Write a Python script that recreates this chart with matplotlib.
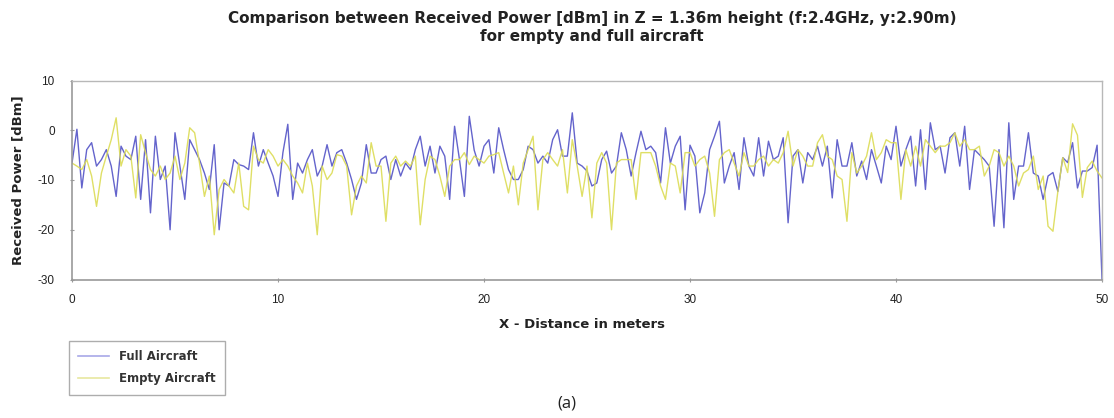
import numpy as np
import matplotlib
matplotlib.use("Agg")
import matplotlib.pyplot as plt
from matplotlib.lines import Line2D

plt.rcParams['font.family'] = ['Liberation Sans', 'DejaVu Sans']
plt.rcParams['axes.unicode_minus'] = False

# received power [dBm], every ~0.24 m from 0 to 50 m
full_aircraft = [
    -6.6, 0.2, -11.6, -3.9, -2.5, -7.2, -5.9, -3.9, -7.2, -13.3,
    -3.2, -5.2, -5.9, -1.2, -13.9, -1.9, -16.6, -1.2, -9.9, -7.2,
    -20.0, -0.5, -7.2, -13.9, -1.9, -3.9, -5.9, -8.6, -11.9, -2.9,
    -20.0, -10.6, -11.2, -5.9, -6.9, -7.2, -7.9, -0.5, -7.2, -3.9,
    -6.6, -9.2, -13.3, -4.5, 1.2, -13.9, -6.6, -8.6, -5.9, -3.9, -9.2,
    -7.2, -2.9, -7.2, -4.5, -3.9, -6.6, -9.9, -13.9, -10.6, -2.9,
    -8.6, -8.6, -5.9, -5.2, -9.9, -5.9, -9.2, -6.6, -7.9, -3.9,
    -1.2, -7.2, -3.2, -8.6, -3.2, -5.2, -13.9, 0.8, -5.9, -13.3,
    2.8, -4.0, -7.2, -3.2, -1.9, -8.6, 0.5, -3.9, -7.9, -9.9,
    -9.9, -7.9, -3.2, -3.9, -6.6, -5.2, -6.6, -1.9, 0.1, -5.2,
    -5.2, 3.5, -6.6, -7.2, -8.2, -11.2, -10.6, -5.9, -4.2, -8.6,
    -7.2, -0.5, -3.9, -9.2, -4.5, -0.2, -3.9, -3.2, -4.5, -10.6,
    0.5, -6.6, -3.2, -1.2, -16.0, -3.0, -5.2, -16.6, -12.6, -3.9,
    -1.2, 1.8, -10.6, -7.2, -4.5, -11.9, -1.5, -7.2, -9.2, -1.5,
    -9.2, -2.2, -5.9, -5.2, -1.5, -18.6, -5.2, -3.9, -10.6, -4.5,
    -5.9, -3.2, -7.2, -3.2, -13.6, -1.9, -7.2, -7.2, -2.5, -9.2,
    -6.2, -9.9, -3.9, -7.2, -10.6, -3.2, -5.9, 0.8, -7.2, -3.9,
    -1.2, -11.2, 0.1, -11.9, 1.5, -3.9, -3.2, -8.6, -1.5, -0.5,
    -7.2, 0.8, -11.9, -3.9, -4.9, -5.9, -7.2, -19.3, -3.9, -19.6,
    1.5, -13.9, -7.2, -7.2, -0.5, -8.6, -9.2, -13.9, -9.2, -8.5,
    -12.3, -5.5, -6.5, -2.5, -11.6, -8.2, -8.2, -7.5, -3.0, -30.0,
]
empty_aircraft = [
    -6.6, -7.2, -7.9, -5.9, -9.2, -15.3, -8.6, -5.2, -1.9, 2.5,
    -7.2, -3.9, -5.2, -13.6, -0.9, -4.5, -7.9, -9.2, -7.2, -9.9,
    -8.6, -5.2, -9.9, -6.6, 0.5, -0.5, -6.6, -13.3, -9.2, -21.0,
    -11.9, -9.9, -11.2, -12.6, -6.6, -15.3, -16.0, -3.2, -5.9, -6.6,
    -3.9, -5.2, -7.2, -5.9, -7.2, -9.2, -10.6, -12.6, -6.6, -11.2, -21.0,
    -7.2, -9.9, -8.6, -4.9, -5.2, -7.2, -17.0, -11.2, -9.2, -10.6,
    -2.5, -7.2, -7.2, -18.3, -6.6, -5.2, -7.2, -6.2, -7.2, -5.2,
    -19.0, -9.9, -5.2, -5.9, -9.2, -13.3, -7.2, -5.9, -5.9, -4.5,
    -6.9, -5.2, -5.9, -6.6, -5.2, -4.9, -4.5, -8.6, -12.6, -7.2,
    -15.0, -6.6, -3.9, -1.2, -16.0, -5.9, -4.5, -5.9, -7.2, -3.9,
    -12.6, -1.9, -7.2, -13.3, -7.2, -17.6, -6.6, -4.5, -6.6, -20.0,
    -6.6, -5.9, -5.9, -5.9, -13.9, -4.5, -4.5, -4.5, -7.2, -11.2,
    -13.9, -6.6, -7.2, -12.6, -4.5, -4.5, -7.2, -5.9, -5.2, -8.6,
    -17.3, -5.9, -4.5, -3.9, -6.6, -9.2, -4.5, -7.2, -7.2, -5.9,
    -5.2, -7.2, -5.9, -6.6, -4.5, -0.2, -7.2, -3.9, -5.2, -7.2,
    -7.2, -2.5, -0.9, -5.2, -5.9, -9.2, -9.9, -18.3, -4.5, -8.6,
    -7.2, -5.2, -0.5, -5.9, -4.5, -1.9, -2.5, -2.5, -13.9, -3.9,
    -7.2, -3.2, -7.2, -1.9, -3.2, -4.5, -3.2, -3.2, -2.5, -0.5,
    -3.2, -1.9, -3.9, -3.9, -3.2, -9.2, -7.2, -3.9, -4.5, -7.2,
    -5.2, -7.2, -11.2, -8.6, -7.9, -5.2, -11.9, -9.2, -19.3, -20.3,
    -12.3, -5.5, -8.5, 1.3, -1.0, -13.5, -7.5, -6.2, -8.2, -9.6,
]
distance = np.linspace(0, 50, len(full_aircraft))   # X - distance [m]

x_ticks = [0, 10, 20, 30, 40, 50]
y_ticks = [10, 0, -10, -20, -30]

blue = '#6464cc'
yellow = '#dcdc55'
wide = ['DejaVu Sans']          # reference text is broader than Arial

fig = plt.figure(figsize=(11.14, 4.18), dpi=100)
ax = fig.add_axes([72/1114, 1 - 279.5/418, 1030/1114, 199/418])

ax.plot(distance, full_aircraft, color=blue, lw=1.0)
ax.plot(distance, empty_aircraft, color=yellow, lw=1.0, alpha=0.9)

ax.set_xlim(0, 50)
ax.set_ylim(-30, 10)
ax.set_xticks(x_ticks)
ax.set_yticks(y_ticks)
ax.tick_params(labelsize=8.5, colors='#222222', length=3, width=0.8,
               direction='inout')
ax.tick_params(axis='x', pad=9)
ax.tick_params(axis='y', pad=11)
ax.tick_params(axis='both', color='#999999')

for side in ['left', 'bottom']:
    ax.spines[side].set_color('#999999')
    ax.spines[side].set_linewidth(1.2)
for side in ['top', 'right']:
    ax.spines[side].set_color('#b8b8b8')
    ax.spines[side].set_linewidth(1.0)

fig.text(592/1114, 1 - 19/418,
         'Comparison between Received Power [dBm] in Z = 1.36m height (f:2.4GHz, y:2.90m)',
         ha='center', va='center', fontsize=11, fontweight='bold',
         color='#222222', family=wide)
fig.text(592/1114, 1 - 37/418, 'for empty and full aircraft',
         ha='center', va='center', fontsize=11, fontweight='bold',
         color='#222222', family=wide)
fig.text(582/1114, 1 - 325/418, 'X - Distance in meters',
         ha='center', va='center', fontsize=9.5, fontweight='bold',
         color='#222222', family=wide)
fig.text(18/1114, 1 - 180/418, 'Received Power [dBm]', rotation=90,
         ha='center', va='center', fontsize=9.5, fontweight='bold',
         color='#222222', family=wide)

handles = [Line2D([], [], color='#a8a8e8', lw=1.2),
           Line2D([], [], color='#e8e8a0', lw=1.2)]
leg = fig.legend(handles, ['Full Aircraft', 'Empty Aircraft'],
                 loc='upper left', bbox_to_anchor=(69/1114, 1 - 341/418),
                 borderaxespad=0,
                 prop={'family': wide, 'weight': 'bold', 'size': 8.5},
                 frameon=True, fancybox=False,
                 edgecolor='#999999', handlelength=2.6, borderpad=0.8,
                 labelspacing=0.75)
leg.get_frame().set_linewidth(1.0)
for t in leg.get_texts():
    t.set_color('#333333')

fig.text(567/1114, 1 - 404/418, '(a)', ha='center', va='center',
         fontsize=12, family=['Open Sans', 'DejaVu Sans'], color='#222222')

fig.savefig('out.png', dpi=100)
